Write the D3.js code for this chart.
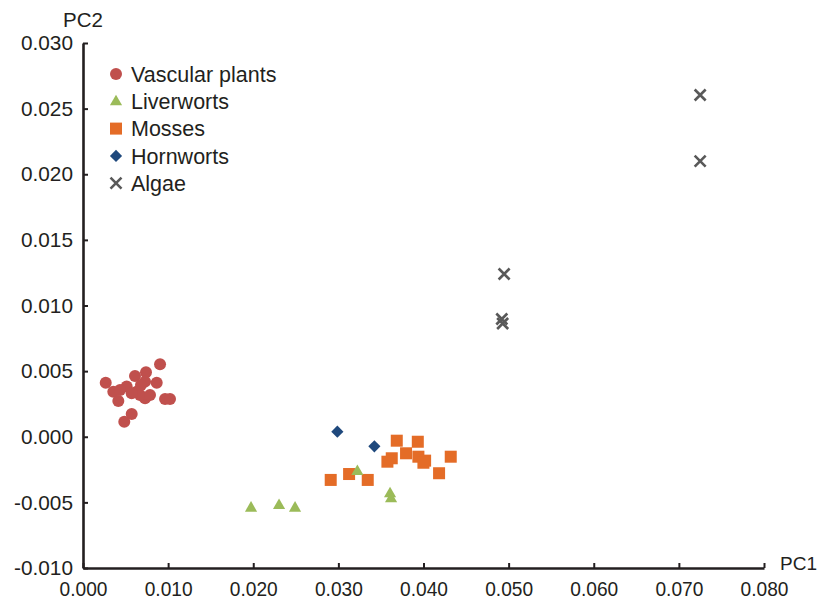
<!DOCTYPE html>
<html>
<head>
<meta charset="utf-8">
<script src="https://cdn.jsdelivr.net/npm/d3@7"></script>
<style>
  html, body { margin: 0; padding: 0; background: #fff; }
  svg { display: block; font-family: "Liberation Sans", Arial, sans-serif; }
</style>
</head>
<body>
<svg id="chart" width="819" height="600"></svg>
<script>
// ---- data ----
const groups = ["Vascular plants", "Liverworts", "Mosses", "Hornworts", "Algae"];
const groupColors = ["#C0504D", "#9BBB59", "#E46C27", "#1F497D", "#595959"];

const vascularPC1 = [0.00267, 0.00356, 0.00415, 0.00611, 0.00740, 0.00866, 0.00905, 0.00964, 0.01022, 0.00572,
                     0.00485, 0.00513, 0.00631, 0.00729, 0.00670, 0.00572, 0.00729, 0.00435, 0.00787, 0.00681];
const vascularPC2 = [0.00412, 0.00343, 0.00273, 0.00463, 0.00491, 0.00412, 0.00552, 0.00288, 0.00288, 0.00173,
                     0.00115, 0.00382, 0.00343, 0.00293, 0.00318, 0.00331, 0.00420, 0.00356, 0.00318, 0.00394];

const mossesPC1 = [0.03686, 0.03933, 0.03795, 0.03627, 0.03576, 0.03940, 0.04019, 0.03999, 0.04320, 0.04183, 0.02910, 0.03126, 0.03345];
const mossesPC2 = [-0.00030, -0.00038, -0.00126, -0.00164, -0.00190, -0.00152, -0.00182, -0.00198, -0.00152, -0.00278, -0.00329, -0.00284, -0.00329];

const liverwortsPC1 = [0.03223, 0.03607, 0.03619, 0.01974, 0.02303, 0.02491];
const liverwortsPC2 = [-0.00261, -0.00431, -0.00469, -0.00540, -0.00520, -0.00540];

const hornwortsPC1 = [0.02988, 0.03423];
const hornwortsPC2 = [0.00039, -0.00073];

const algaePC1 = [0.04947, 0.04920, 0.04930, 0.07250, 0.07250];
const algaePC2 = [0.01240, 0.00897, 0.00863, 0.02604, 0.02100];

const xTickValues = [0, 0.01, 0.02, 0.03, 0.04, 0.05, 0.06, 0.07, 0.08];
const xTickLabels = ["0.000", "0.010", "0.020", "0.030", "0.040", "0.050", "0.060", "0.070", "0.080"];
const yTickValues = [-0.01, -0.005, 0, 0.005, 0.01, 0.015, 0.02, 0.025, 0.03];
const yTickLabels = ["-0.010", "-0.005", "0.000", "0.005", "0.010", "0.015", "0.020", "0.025", "0.030"];

// ---- chart ----
const svg = d3.select("#chart");
const ink = "#231f20";

const x = d3.scaleLinear().domain([0, 0.08]).range([83, 764]);
const y = d3.scaleLinear().domain([-0.01, 0.03]).range([568, 43]);

// axes
const xAxis = d3.axisBottom(x)
  .tickValues(xTickValues)
  .tickFormat((d, i) => xTickLabels[i])
  .tickSizeInner(-5).tickSizeOuter(0).tickPadding(13);
const yAxis = d3.axisLeft(y)
  .tickValues(yTickValues)
  .tickFormat((d, i) => yTickLabels[i])
  .tickSizeInner(-5).tickSizeOuter(0).tickPadding(10);

const gx = svg.append("g").attr("transform", `translate(0,${y(-0.01)})`).call(xAxis);
const gy = svg.append("g").attr("transform", `translate(${x(0)},0)`).call(yAxis);

[gx, gy].forEach(g => {
  g.select(".domain").attr("stroke", ink).attr("stroke-width", 2.6);
  g.selectAll(".tick line").attr("stroke", ink).attr("stroke-width", 2);
  g.selectAll(".tick text").attr("fill", ink)
    .attr("font-family", '"Liberation Sans", Arial, sans-serif');
});
gy.selectAll(".tick text").attr("font-size", 20.8);
gx.selectAll(".tick text").attr("font-size", 20.6).attr("transform", "scale(0.93,1)");

// axis titles
svg.append("text").attr("x", 780).attr("y", 570).attr("fill", ink)
  .attr("font-size", 19).text("PC1");
svg.append("text").attr("x", 83).attr("y", 27).attr("fill", ink)
  .attr("text-anchor", "middle").attr("font-size", 20.5).text("PC2");

// marker drawers
function marker(g, type, color) {
  if (type === 0) {
    g.append("circle").attr("r", 6).attr("fill", color);
  } else if (type === 1) {
    g.append("path").attr("d", d3.symbol(d3.symbolTriangle, 64)()).attr("fill", color)
      .attr("transform", "translate(0,0.5)");
  } else if (type === 2) {
    g.append("rect").attr("x", -6).attr("y", -6).attr("width", 12).attr("height", 12).attr("fill", color);
  } else if (type === 3) {
    g.append("rect").attr("x", -4.3).attr("y", -4.3).attr("width", 8.6).attr("height", 8.6)
      .attr("transform", "rotate(45)").attr("fill", color);
  } else {
    g.append("path").attr("d", "M-5.5,-5.5L5.5,5.5M-5.5,5.5L5.5,-5.5")
      .attr("stroke", color).attr("stroke-width", 2.6).attr("fill", "none");
  }
}

const seriesList = [
  { type: 0, xs: vascularPC1, ys: vascularPC2 },
  { type: 2, xs: mossesPC1, ys: mossesPC2 },
  { type: 1, xs: liverwortsPC1, ys: liverwortsPC2 },
  { type: 3, xs: hornwortsPC1, ys: hornwortsPC2 },
  { type: 4, xs: algaePC1, ys: algaePC2 }
];

const plot = svg.append("g");
seriesList.forEach(s => {
  s.xs.forEach((v, i) => {
    const g = plot.append("g").attr("transform", `translate(${x(v)},${y(s.ys[i])})`);
    marker(g, s.type, groupColors[s.type]);
  });
});

// legend
const legend = svg.append("g");
groups.forEach((name, i) => {
  const cy = 74 + i * 27.3;
  const g = legend.append("g").attr("transform", `translate(116,${cy})`);
  marker(g, i, groupColors[i]);
  legend.append("text").attr("x", 131).attr("y", cy).attr("dy", "0.36em")
    .attr("fill", ink).attr("font-size", 21.5).text(name);
});
</script>
</body>
</html>
